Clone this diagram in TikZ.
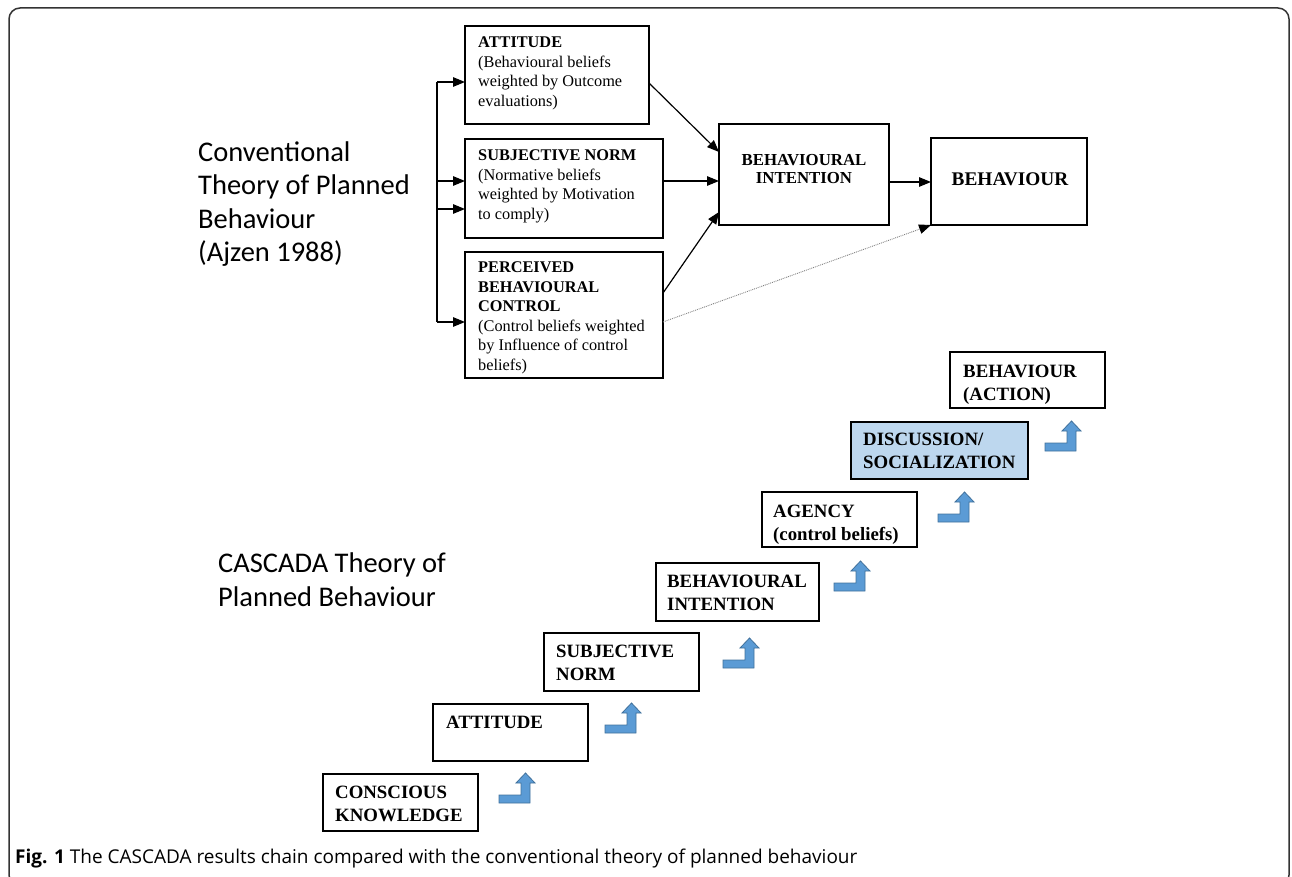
\documentclass[tikz,border=0pt]{standalone}
\usepackage{fontspec}
\setmainfont{Liberation Serif}
\newfontfamily\calibfont{Carlito}
\newfontfamily\capfont{Open Sans}
\usetikzlibrary{arrows.meta,calc}
\definecolor{arrowblue}{HTML}{5B9BD5}
\definecolor{arrowedge}{HTML}{41719C}
\definecolor{discblue}{HTML}{BDD7EE}
\definecolor{framegray}{HTML}{333333}
\tikzset{
  bentarrow/.pic={\draw[fill=arrowblue, draw=arrowedge, line width=0.8pt]
     (0,0) -- (31,0) -- (31,-20) -- (36,-20) -- (26.5,-30) -- (17,-20) -- (22,-20) -- (22,-8) -- (0,-8) -- cycle;}
}
\begin{document}
\begin{tikzpicture}[x=1pt,y=-1pt,
  box/.style={draw=black, line width=1.1pt, anchor=north west, inner sep=0pt, outer sep=0pt},
  txt/.style={anchor=north west, inner sep=0pt, align=left},
  t16/.style={font=\fontsize{16.3}{19.5}\selectfont},
  c18/.style={font=\fontsize{18.8}{23}\selectfont\bfseries},
  conn/.style={line width=1.2pt, -{Triangle[length=12pt,width=9.5pt]}},
  dotconn/.style={line width=0.9pt, gray, densely dotted, -{Triangle[length=12pt,width=9.5pt,color=black]}},
  big/.style={font=\calibfont\fontsize{28.5}{33.3}\selectfont}
]
\useasboundingbox (0,0) rectangle (1292,877);
\begin{scope}
\clip (0,0) rectangle (1292,877);
\draw[rounded corners=11pt, line width=1.5pt, draw=framegray] (9,8) rectangle (1289,886);
\end{scope}

% ---------- conventional theory ----------
\node[box, minimum width=184pt, minimum height=98pt] (att) at (465,26) {};
\node[box, minimum width=198pt, minimum height=99pt] (sn) at (465,139) {};
\node[box, minimum width=198pt, minimum height=126pt] (pbc) at (465,252) {};
\node[box, minimum width=170pt, minimum height=101pt] (bi) at (719,124) {};
\node[box, minimum width=156pt, minimum height=87pt] (beh) at (931,138) {};

\node[txt,t16] (att-t) at (478,37) {\textbf{ATTITUDE}\\(Behavioural beliefs\\weighted by Outcome\\evaluations)};
\node[txt,t16] (sn-t) at (478,150) {\textbf{SUBJECTIVE NORM}\\(Normative beliefs\\weighted by Motivation\\to comply)};
\node[txt,t16] (pbc-t) at (478,262) {\textbf{PERCEIVED}\\\textbf{BEHAVIOURAL}\\\textbf{CONTROL}\\(Control beliefs weighted\\by Influence of control\\beliefs)};
\node[anchor=north, inner sep=0pt, align=center, font=\fontsize{16.8}{18}\selectfont\bfseries] (bi-t) at (804,154.5) {BEHAVIOURAL\\INTENTION};
\node[anchor=north, inner sep=0pt, font=\fontsize{19.3}{22}\selectfont\bfseries] (beh-t) at (1010,172.5) {BEHAVIOUR};

\coordinate (b1) at (437,82);
\coordinate (b2) at (437,181);
\coordinate (b3) at (437,209);
\coordinate (b4) at (437,322);
\draw[line width=1.2pt] (b1) -- (b4);
\draw[conn] (b1) -- (b1 -| att.west);
\draw[conn] (b2) -- (b2 -| sn.west);
\draw[conn] (b3) -- (b3 -| sn.west);
\draw[conn] (b4) -- (b4 -| pbc.west);

\draw[conn] ([yshift=-57pt]att.north east) -- ([yshift=-28pt]bi.north west);
\draw[conn] (sn.east |- b2) -- (bi.west |- b2);
\draw[conn] ([yshift=-41pt]pbc.north east) -- ([yshift=13pt]bi.south west);
\draw[conn] ([yshift=-58pt]bi.north east) -- ([yshift=-44pt]beh.north west);
\draw[dotconn] ([yshift=-70pt]pbc.north east) -- (beh.south west);

\node[txt,big] (conv) at (198,141.5) {Conventional\\Theory of Planned\\Behaviour\\(Ajzen 1988)};

% ---------- CASCADA ----------
\node[txt,big, font=\calibfont\fontsize{28.5}{34}\selectfont] (casc) at (218,552.5) {CASCADA Theory of\\Planned Behaviour};

\node[box, minimum width=155pt, minimum height=57pt] (ck) at (323,774) {};
\node[box, minimum width=155pt, minimum height=57pt] (att2) at (433,704) {};
\node[box, minimum width=155pt, minimum height=58pt] (sn2) at (544,633) {};
\node[box, minimum width=163pt, minimum height=58pt] (bi2) at (656,563) {};
\node[box, minimum width=155pt, minimum height=55pt] (ag) at (762,492) {};
\node[box, fill=discblue, minimum width=177pt, minimum height=57pt] (disc) at (851,422) {};
\node[box, minimum width=155pt, minimum height=56pt] (beh2) at (950,352) {};

\node[txt,c18] (ck-t) at (335,785.5) {CONSCIOUS\\KNOWLEDGE};
\node[txt,c18] (att2-t) at (446,715.5) {ATTITUDE};
\node[txt,c18] (sn2-t) at (556,644.5) {SUBJECTIVE\\NORM};
\node[txt,c18] (bi2-t) at (667,574.5) {BEHAVIOURAL\\INTENTION};
\node[txt,c18] (ag-t) at (773,504.5) {AGENCY\\(control beliefs)};
\node[txt,c18] (disc-t) at (863,432.5) {DISCUSSION/\\SOCIALIZATION};
\node[txt,c18] (beh2-t) at (963,364.5) {BEHAVIOUR\\(ACTION)};

\pic (a1) at (499,803) {bentarrow};
\pic (a2) at (605,733) {bentarrow};
\pic (a3) at (723,668) {bentarrow};
\pic (a4) at (834,591) {bentarrow};
\pic (a5) at (938,522) {bentarrow};
\pic (a6) at (1045,451) {bentarrow};

% ---------- caption ----------
\node[anchor=base west, inner sep=0pt, font=\capfont\fontsize{19}{22}\selectfont] (cap) at (15,863) {\textbf{Fig. 1} The CASCADA results chain compared with the conventional theory of planned behaviour};
\end{tikzpicture}
\end{document}
